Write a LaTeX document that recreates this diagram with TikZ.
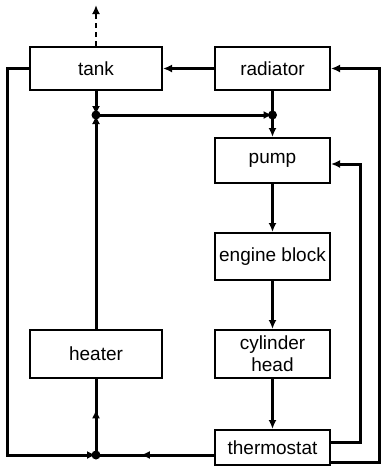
\documentclass[tikz,border=0pt]{standalone}
\usepackage{fontspec}
\setmainfont{Liberation Sans}
\usepackage{tikz}
\usetikzlibrary{arrows.meta,positioning,calc,decorations.markings}

\begin{document}
\begin{tikzpicture}[x=1pt,y=-1pt,
  unit/.style={draw, line width=2pt, inner sep=1pt, align=center,
    font=\fontsize{19}{22}\selectfont},
  flow/.style={line width=3pt},
  tip/.style={-{Latex[length=9pt,width=8pt]}},
  midtip/.style={postaction={decorate}, decoration={markings,
    mark=at position #1 with {\arrow{Latex[length=9pt,width=8pt]}}}},
  dot/.style={fill, circle, inner sep=0pt, minimum size=9pt}]
\useasboundingbox (0,0) rectangle (381,475);
% units of the cooling circuit
\node[unit, minimum width=132pt, minimum height=43pt] (tank) at (96,68.5) {tank};
\node[unit, minimum width=115pt, minimum height=43pt] (radiator) at (272.5,68.5) {radiator};
\node[unit, minimum width=115pt, minimum height=45pt] (pump) at (272.5,160.5) {pump};
\node[unit, minimum width=115pt, minimum height=47pt] (engine) at (272.5,256.5) {engine block};
\node[unit, minimum width=115pt, minimum height=48pt] (head) at (272.5,354) {cylinder\\head};
\node[unit, minimum width=132pt, minimum height=48pt] (heater) at (96,354) {heater};
\node[unit, minimum width=115pt, minimum height=35pt] (thermostat) at (272.5,447.5) {thermostat};
% junctions and corners
\coordinate (jtank) at (96,115);
\coordinate (jpump) at (272.5,115);
\coordinate (jheat) at (96,455);
\coordinate (vent) at (96,5);
\coordinate (rbot) at (379,462);
\coordinate (rmid) at (360,442);
% main loop
\draw[flow, tip] (radiator) -- (tank);
\draw[flow, tip] (tank) -- (jtank);
\draw[flow, tip] (heater) -- (jtank);
\draw[flow, tip] (jtank) -- (jpump);
\draw[flow] (radiator) -- (jpump);
\draw[flow, tip] (jpump) -- (pump);
\draw[flow, tip] (pump) -- (engine);
\draw[flow, tip] (engine) -- (head);
\draw[flow, tip] (head) -- (thermostat);
% return paths
\draw[flow, midtip=0.62] (thermostat.west |- jheat) -- (jheat);
\draw[flow, midtip=0.6] (jheat) -- (heater);
\draw[flow, tip] (tank.west) -- ++(-22,0) |- (jheat);
\draw[flow, tip] (thermostat.east |- rbot) -- (rbot) |- (radiator.east);
\draw[flow, tip] (thermostat.east |- rmid) -- (rmid) |- ($(pump.east)+(0,3.5)$);
% overflow
\draw[line width=2.4pt, dash pattern=on 5pt off 4pt, tip] (tank) -- (vent);
\node[dot] (d1) at (jtank) {};
\node[dot] (d2) at (jpump) {};
\node[dot] (d3) at (jheat) {};
\end{tikzpicture}
\end{document}
